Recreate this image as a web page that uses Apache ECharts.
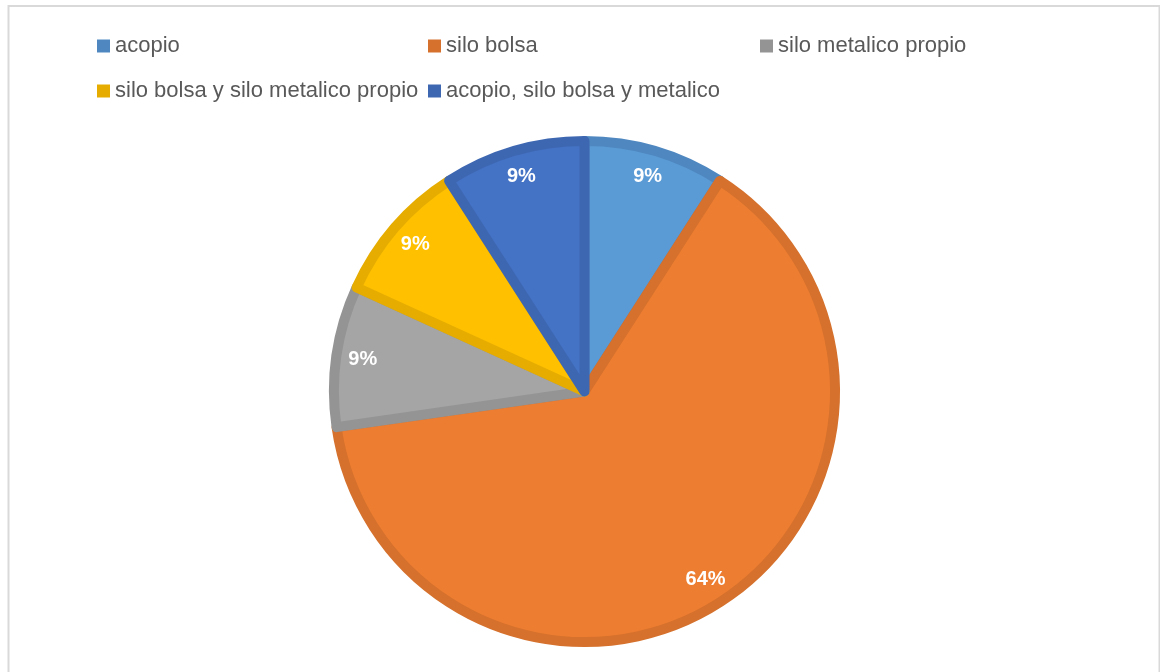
<!DOCTYPE html>
<html>
<head>
<meta charset="utf-8">
<script src="https://cdn.jsdelivr.net/npm/echarts@6/dist/echarts.min.js"></script>
<style>
html,body{margin:0;padding:0;background:#fff;}
#chart{width:1160px;height:672px;}
</style>
</head>
<body>
<div id="chart"></div>
<script>
const categories = ['acopio', 'silo bolsa', 'silo metalico propio', 'silo bolsa y silo metalico propio', 'acopio, silo bolsa y metalico'];
const values = [1, 7, 1, 1, 1];
const labelsText = ['9%', '64%', '9%', '9%', '9%'];
const fillColors = ['#5B9BD5', '#ED7D31', '#A5A5A5', '#FFC000', '#4472C4'];
const borderColors = ['#4F88C1', '#D5712C', '#949494', '#E6AD00', '#3E67B2'];

const legendPos = [[97, 35], [428, 35], [760, 35], [97, 80], [428, 80]];

const chart = echarts.init(document.getElementById('chart'));

const legends = categories.map((c, i) => ({
  data: [{ name: c, itemStyle: { color: borderColors[i], borderWidth: 0 } }],
  left: legendPos[i][0],
  top: legendPos[i][1],
  orient: 'horizontal',
  padding: 0,
  icon: 'rect',
  itemWidth: 13,
  itemHeight: 13,
  selectedMode: false,
  textStyle: { color: '#595959', fontSize: 22, fontFamily: 'Liberation Sans, Arial, sans-serif', padding: [0, 0, 0, 0] }
}));

const mainData = categories.map((c, i) => ({
  name: c,
  value: values[i],
  itemStyle: { color: fillColors[i], borderColor: borderColors[i], borderWidth: 10 }
}));

const labelData = categories.map((c, i) => ({
  name: c,
  value: values[i],
  label: { formatter: labelsText[i] }
}));

chart.setOption({
  animation: false,
  backgroundColor: '#ffffff',
  legend: legends,
  graphic: [{
    type: 'rect',
    shape: { x: 8.5, y: 6, width: 1151, height: 720 },
    style: { fill: 'none', stroke: '#D9D9D9', lineWidth: 2 },
    silent: true,
    z: 0
  }],
  series: [
    {
      type: 'pie',
      center: [584.5, 391.5],
      radius: [0, 250.5],
      startAngle: 90,
      clockwise: true,
      data: mainData,
      label: { show: false },
      labelLine: { show: false },
      emphasis: { disabled: true }
    },
    {
      type: 'pie',
      center: [584.5, 391.5],
      radius: [190, 252],
      startAngle: 90,
      clockwise: true,
      silent: true,
      data: labelData,
      itemStyle: { color: 'rgba(0,0,0,0)', borderWidth: 0 },
      label: {
        show: true,
        position: 'inside',
        color: '#ffffff',
        fontSize: 20,
        fontWeight: 'bold',
        fontFamily: 'Liberation Sans, Arial, sans-serif'
      },
      labelLine: { show: false },
      emphasis: { disabled: true },
      z: 5
    }
  ]
});
</script>
</body>
</html>
